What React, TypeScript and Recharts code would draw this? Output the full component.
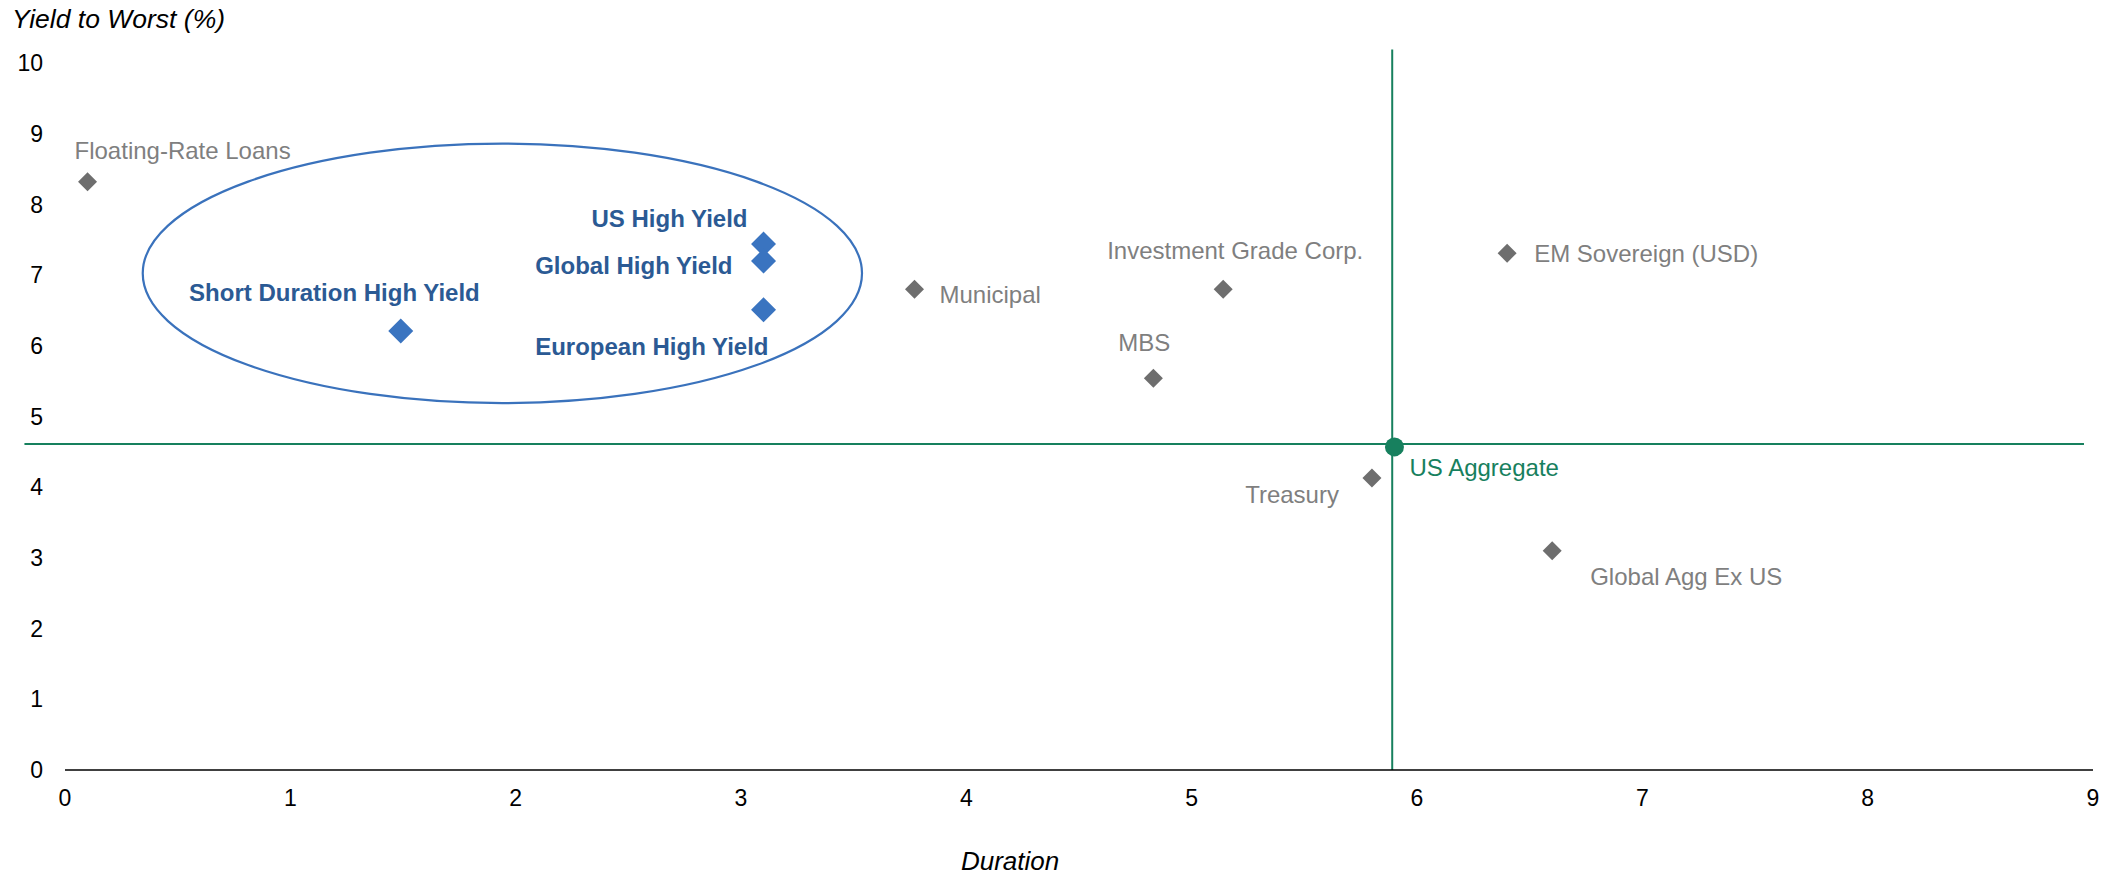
import React from 'react';
import { ScatterChart, Scatter, XAxis, YAxis, ReferenceLine, ReferenceArea, LabelList, Label } from 'recharts';

// ---- data ----
const otherNames = ['Floating-Rate Loans', 'Municipal', 'Investment Grade Corp.', 'MBS', 'EM Sovereign (USD)', 'Treasury', 'Global Agg Ex US'];
const otherDuration = [0.1, 3.77, 5.14, 4.83, 6.4, 5.8, 6.6];
const otherYield = [8.32, 6.8, 6.8, 5.54, 7.31, 4.13, 3.1];

const hyNames = ['US High Yield', 'Global High Yield', 'European High Yield', 'Short Duration High Yield'];
const hyDuration = [3.1, 3.1, 3.1, 1.49];
const hyYield = [7.44, 7.2, 6.51, 6.21];

const aggNames = ['US Aggregate'];
const aggDuration = [5.9];
const aggYield = [4.57];

// benchmark cross-hair lines (duration, yield) and their extents
const benchDuration = 5.89;
const benchYield = 4.61;
const hLineX = [-0.18, 8.96];
const vLineY = [0, 10.19];

// highlighted high-yield ellipse extents
const ellipseX = [0.345, 3.537];
const ellipseY = [5.19, 8.86];

const xTicks = [0, 1, 2, 3, 4, 5, 6, 7, 8, 9];
const yTicks = [0, 1, 2, 3, 4, 5, 6, 7, 8, 9, 10];

const build = (names: string[], xs: number[], ys: number[]) =>
  names.map((name, i) => ({ name, x: xs[i], y: ys[i] }));

const otherData = build(otherNames, otherDuration, otherYield);
const hyData = build(hyNames, hyDuration, hyYield);
const aggData = build(aggNames, aggDuration, aggYield);

// ---- label placement (layout only) ----
const labelPos: Record<string, { dx: number; dy: number; anchor: 'start' | 'middle' | 'end' }> = {
  'Floating-Rate Loans': { dx: -13, dy: -31, anchor: 'start' },
  'Municipal': { dx: 25, dy: 5, anchor: 'start' },
  'Investment Grade Corp.': { dx: 12, dy: -39, anchor: 'middle' },
  'MBS': { dx: -9, dy: -36, anchor: 'middle' },
  'EM Sovereign (USD)': { dx: 27, dy: 0, anchor: 'start' },
  'Treasury': { dx: -33, dy: 16, anchor: 'end' },
  'Global Agg Ex US': { dx: 38, dy: 26, anchor: 'start' },
  'US High Yield': { dx: -16, dy: -25, anchor: 'end' },
  'Global High Yield': { dx: -31, dy: 5, anchor: 'end' },
  'European High Yield': { dx: 5, dy: 37, anchor: 'end' },
  'Short Duration High Yield': { dx: 79, dy: -38, anchor: 'end' },
  'US Aggregate': { dx: 15, dy: 21, anchor: 'start' },
};

const FONT = '"Liberation Sans", Arial, sans-serif';
const GRAY_M = '#6E6E6E';
const GRAY_T = '#7F7F7F';
const BLUE_M = '#3A74C0';
const BLUE_T = '#2B5A94';
const GREEN = '#17805E';

const diamond = (fill: string, r: number) => (props: any) => {
  const { cx, cy } = props;
  if (cx == null || cy == null) return <g />;
  return (
    <polygon
      points={`${cx},${cy - r} ${cx + r},${cy} ${cx},${cy + r} ${cx - r},${cy}`}
      fill={fill}
    />
  );
};

const circle = (fill: string, r: number) => (props: any) => {
  const { cx, cy } = props;
  if (cx == null || cy == null) return <g />;
  return <circle cx={cx} cy={cy} r={r} fill={fill} />;
};

const makeLabel = (color: string, bold: boolean) => (props: any) => {
  const { x, y, width, height, value } = props;
  const p = labelPos[value] || { dx: 0, dy: 0, anchor: 'start' };
  const cx = x + (width || 0) / 2;
  const cy = y + (height || 0) / 2;
  return (
    <text
      x={cx + p.dx}
      y={cy + p.dy}
      textAnchor={p.anchor}
      dominantBaseline="central"
      fill={color}
      fontFamily={FONT}
      fontSize={24}
      fontWeight={bold ? 'bold' : 'normal'}
    >
      {value}
    </text>
  );
};

const ellipseShape = (props: any) => {
  const { x, y, width, height } = props;
  return (
    <ellipse
      cx={x + width / 2}
      cy={y + height / 2}
      rx={width / 2}
      ry={height / 2}
      fill="none"
      stroke="#3A72BC"
      strokeWidth={2.2}
    />
  );
};

const xTitle = (props: any) => {
  const vb = props.viewBox;
  return (
    <text
      x={vb.x + vb.width * 0.466}
      y={vb.y + vb.height - 7}
      textAnchor="middle"
      fontFamily={FONT}
      fontSize={26}
      fontStyle="italic"
      fill="#000"
    >
      Duration
    </text>
  );
};

const yTitle = (props: any) => {
  const vb = props.viewBox;
  return (
    <text
      x={12}
      y={vb.y - 35}
      textAnchor="start"
      fontFamily={FONT}
      fontSize={26.5}
      fontStyle="italic"
      fill="#000"
    >
      Yield to Worst (%)
    </text>
  );
};

export default function App() {
  return (
    <div style={{ position: 'absolute', left: 0, top: 0, background: '#fff' }}>
      <ScatterChart
        width={2110}
        height={877}
        margin={{ top: 63, right: 17, bottom: 0, left: 0 }}
      >
        <XAxis
          type="number"
          dataKey="x"
          domain={[0, 9]}
          ticks={xTicks}
          allowDataOverflow
          tickLine={false}
          axisLine={{ stroke: '#000', strokeWidth: 1.6 }}
          tick={{ fill: '#000', fontSize: 23, fontFamily: FONT }}
          tickMargin={14}
          height={107}
        >
          <Label content={xTitle} />
        </XAxis>
        <YAxis
          type="number"
          dataKey="y"
          domain={[0, 10]}
          ticks={yTicks}
          allowDataOverflow
          tickLine={false}
          axisLine={false}
          tick={{ fill: '#000', fontSize: 23, fontFamily: FONT }}
          tickMargin={16}
          width={65}
        >
          <Label content={yTitle} />
        </YAxis>
        <ReferenceArea
          x1={ellipseX[0]}
          x2={ellipseX[1]}
          y1={ellipseY[0]}
          y2={ellipseY[1]}
          shape={ellipseShape}
          ifOverflow="visible"
        />
        <ReferenceLine
          segment={[{ x: hLineX[0], y: benchYield }, { x: hLineX[1], y: benchYield }]}
          stroke={GREEN}
          strokeWidth={2}
          ifOverflow="visible"
        />
        <ReferenceLine
          segment={[{ x: benchDuration, y: vLineY[0] }, { x: benchDuration, y: vLineY[1] }]}
          stroke={GREEN}
          strokeWidth={2}
          ifOverflow="visible"
        />
        <Scatter data={otherData} shape={diamond(GRAY_M, 9.5)} isAnimationActive={false}>
          <LabelList dataKey="name" content={makeLabel(GRAY_T, false)} />
        </Scatter>
        <Scatter data={hyData} shape={diamond(BLUE_M, 12.5)} isAnimationActive={false}>
          <LabelList dataKey="name" content={makeLabel(BLUE_T, true)} />
        </Scatter>
        <Scatter data={aggData} shape={circle(GREEN, 9.5)} isAnimationActive={false}>
          <LabelList dataKey="name" content={makeLabel(GREEN, false)} />
        </Scatter>
      </ScatterChart>
    </div>
  );
}
